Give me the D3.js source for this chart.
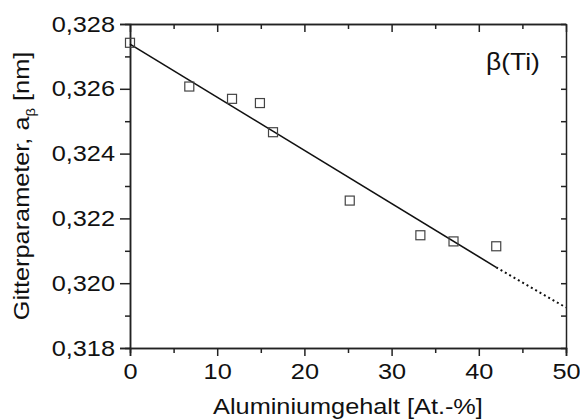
<!DOCTYPE html>
<html>
<head>
<meta charset="utf-8">
<style>
    body { margin: 0; background: #fff; }
    svg { display: block; font-family: 'Liberation Sans', Arial, sans-serif; }
    .axis .domain { stroke: #222; stroke-width: 1.5; }
    .axis .tick line { stroke: #222; stroke-width: 1.5; }
    .axis .tick text { font-size: 22px; fill: #111; }
</style>
</head>
<body>
<svg width="580" height="419"></svg>
<script src="https://d3js.org/d3.v7.min.js"></script>
<script>
    // measured lattice parameters
    let alContent = [0, 6.8, 11.7, 14.9, 16.4, 25.2, 33.3, 37.1, 42.0];
    let latticeParam = [0.32742, 0.32607, 0.32569, 0.32556, 0.32466, 0.32255, 0.32148, 0.32129, 0.32114];

    // linear fit (solid) and its extrapolation (dotted)
    let fitX = [0, 42];
    let fitY = [0.32738, 0.32049];
    let extraX = [42, 50];
    let extraY = [0.32049, 0.31925];

    let xTicks = [0, 10, 20, 30, 40, 50];
    let xMinor = [5, 15, 25, 35, 45];
    let yTicks = [0.318, 0.320, 0.322, 0.324, 0.326, 0.328];
    let yMinor = [0.319, 0.321, 0.323, 0.325, 0.327];

    let svg = d3.select("svg");
    let margin = { top: 24, right: 14, bottom: 71, left: 130 };
    let width = 580, height = 419;
    let stretch = 1.15;

    let x = d3.scaleLinear()
        .domain([0, 50])
        .range([margin.left, width - margin.right])

    let y = d3.scaleLinear()
        .domain([0.318, 0.328])
        .range([height - margin.bottom, margin.top])

    let fmt = d => d3.format(".3f")(d).replace(".", ",")

    // left axis (outward ticks)
    svg.append("g").attr("class", "axis")
        .attr("transform", `translate(${margin.left},0)`)
        .call(d3.axisLeft(y).tickValues(yTicks).tickFormat(fmt).tickSize(10).tickPadding(5))
    svg.append("g").attr("class", "axis minor")
        .attr("transform", `translate(${margin.left},0)`)
        .call(d3.axisLeft(y).tickValues(yMinor).tickFormat("").tickSize(5))

    // bottom axis
    svg.append("g").attr("class", "axis")
        .attr("transform", `translate(0,${height - margin.bottom})`)
        .call(d3.axisBottom(x).tickValues(xTicks).tickSize(8).tickPadding(7))
    svg.append("g").attr("class", "axis minor")
        .attr("transform", `translate(0,${height - margin.bottom})`)
        .call(d3.axisBottom(x).tickValues(xMinor).tickFormat("").tickSize(5))

    // top and right axes, inward ticks
    svg.append("g").attr("class", "axis")
        .attr("transform", `translate(0,${margin.top})`)
        .call(d3.axisTop(x).tickValues(xTicks).tickFormat("").tickSizeInner(-8).tickSizeOuter(0))
    svg.append("g").attr("class", "axis")
        .attr("transform", `translate(0,${margin.top})`)
        .call(d3.axisTop(x).tickValues(xMinor).tickFormat("").tickSizeInner(-5).tickSizeOuter(0))
    svg.append("g").attr("class", "axis")
        .attr("transform", `translate(${width - margin.right},0)`)
        .call(d3.axisRight(y).tickValues(yTicks.concat(yMinor)).tickFormat("").tickSizeInner(-5).tickSizeOuter(0))

    // fit line
    let line = d3.line().x(d => x(d[0])).y(d => y(d[1]))
    svg.append("path")
        .attr("d", line(d3.zip(fitX, fitY)))
        .style("fill", "none").style("stroke", "#111").style("stroke-width", 1.6)
    svg.append("path")
        .attr("d", line(d3.zip(extraX, extraY)))
        .style("fill", "none").style("stroke", "#111").style("stroke-width", 2)
        .style("stroke-dasharray", "2,3")

    // square markers
    let s = 9;
    svg.append("g").selectAll("rect")
        .data(d3.zip(alContent, latticeParam))
        .join("rect")
        .attr("x", d => x(d[0]) - s / 2)
        .attr("y", d => y(d[1]) - s / 2)
        .attr("width", s).attr("height", s)
        .style("fill", "none").style("stroke", "#444").style("stroke-width", 1.2)

    // widen tick labels a little, the original font is wide
    svg.selectAll(".tick text").each(function () {
        let len = this.getComputedTextLength();
        if (len > 0) d3.select(this).attr("textLength", len * stretch).attr("lengthAdjust", "spacingAndGlyphs");
    })

    // axis titles
    svg.append("text")
        .attr("transform", `translate(${(margin.left + width - margin.right) / 2},414) scale(${stretch},1)`)
        .attr("text-anchor", "middle")
        .style("font-size", "22px").style("fill", "#111")
        .text("Aluminiumgehalt [At.-%]")

    let yl = svg.append("text")
        .attr("transform", `translate(29,186) rotate(-90) scale(${stretch},1)`)
        .attr("text-anchor", "middle")
        .style("font-size", "22px").style("fill", "#111")
    yl.append("tspan").text("Gitterparameter, a")
    yl.append("tspan").attr("dy", 6).style("font-size", "13px").text("β")
    yl.append("tspan").attr("dy", -6).text(" [nm]")

    svg.append("text")
        .attr("transform", `translate(513,70) scale(${stretch},1)`)
        .attr("text-anchor", "middle")
        .style("font-size", "23px").style("fill", "#111")
        .text("β(Ti)")
</script>
</body>
</html>
